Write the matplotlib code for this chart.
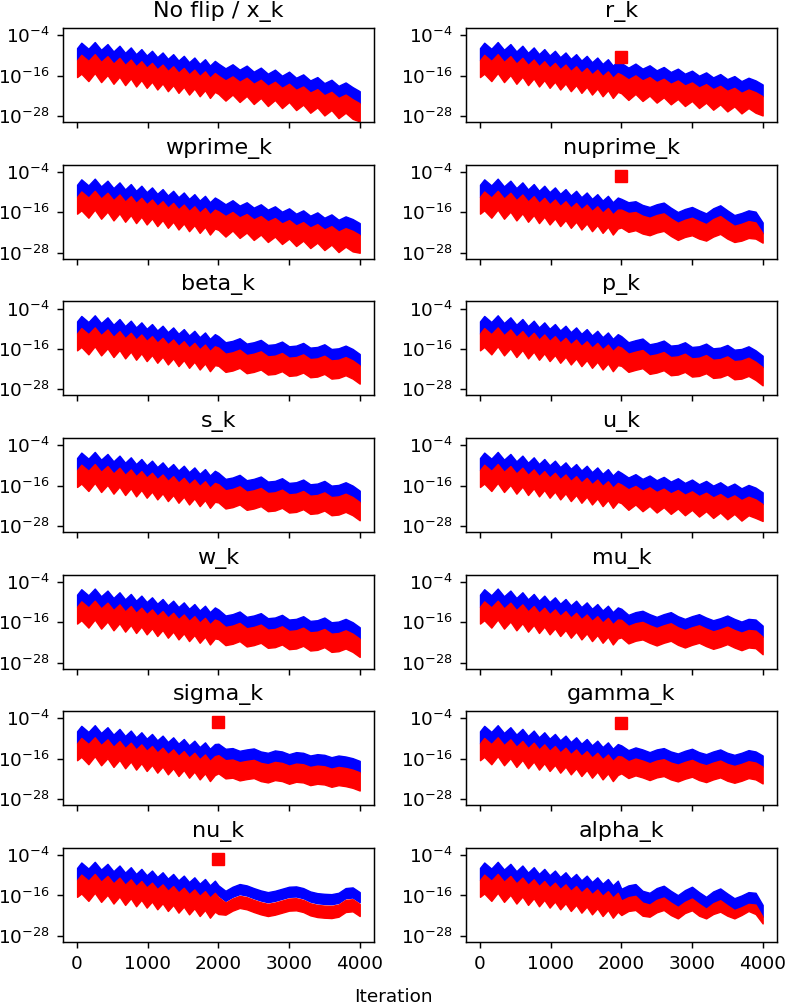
import numpy as np
import matplotlib
matplotlib.use("Agg")
import matplotlib.pyplot as plt
from matplotlib.ticker import NullLocator

TITLES = ["No flip / x_k", "r_k", "wprime_k", "nuprime_k", "beta_k", "p_k",
          "s_k", "u_k", "w_k", "mu_k", "sigma_k", "gamma_k", "nu_k", "alpha_k"]

# log10 of the error envelopes; iterations 0-1950 are the same in every panel
ITER_1ST = [0, 60, 160, 250, 340, 430, 515, 600, 680, 760, 835, 910, 985, 1060,
            1135, 1210, 1285, 1360, 1435, 1510, 1585, 1660, 1735, 1810, 1880, 1950]
BLUE_TOP_1ST = [-7.8, -6.2, -8.0, -6.0, -8.3, -6.6, -8.8, -7.1, -9.2, -7.6, -9.6, -8.1, -10.0,
                -8.6, -10.5, -9.1, -11.0, -9.6, -11.5, -10.1, -12.0, -10.6, -12.5, -11.1, -13.0, -11.6]
RED_TOP_1ST = [-11.4, -9.8, -11.6, -9.6, -11.9, -10.2, -12.4, -10.7, -12.8, -11.2, -13.2, -11.7, -13.6,
               -12.2, -14.1, -12.7, -14.6, -13.2, -15.1, -13.7, -15.6, -14.2, -16.1, -14.7, -16.6, -15.2]
RED_BOT_1ST = [-16.4, -15.4, -17.6, -15.2, -17.9, -15.8, -18.4, -16.3, -18.8, -16.8, -19.2, -17.3, -19.6,
               -17.8, -20.1, -18.3, -20.6, -18.8, -21.1, -19.3, -21.6, -19.8, -22.1, -20.3, -22.6, -20.8]

ITER_2ND = [2000, 2100, 2200, 2300, 2400, 2500, 2600, 2700, 2800, 2900, 3000,
            3100, 3200, 3300, 3400, 3500, 3600, 3700, 3800, 3900, 4000]

BLUE_TOP_2ND = [
    [-12.4, -13.8, -12.6, -14.2, -13.0, -14.8, -13.6, -15.4, -14.2, -16.0, -14.8, -16.6, -15.6, -17.4, -16.4, -18.2, -17.2, -19.0, -18.0, -19.4, -20.6],  # x_k
    [-12.2, -13.6, -12.4, -13.9, -12.9, -14.4, -13.4, -14.9, -13.9, -15.4, -14.5, -16.0, -15.0, -16.5, -15.5, -17.0, -16.1, -17.6, -16.6, -17.4, -18.6],  # r_k
    [-12.2, -13.6, -12.4, -14.0, -13.0, -14.6, -13.6, -15.2, -14.2, -15.8, -14.8, -16.4, -15.4, -17.0, -16.0, -17.6, -16.6, -18.2, -17.2, -18.0, -19.2],  # wprime_k
    [-12.0, -13.0, -12.7, -13.8, -14.4, -13.6, -13.1, -14.6, -15.9, -15.0, -14.4, -15.4, -16.3, -14.8, -13.9, -15.4, -16.8, -16.2, -15.4, -15.8, -19.0],  # nuprime_k
    [-12.2, -14.0, -13.6, -12.8, -14.4, -14.0, -13.3, -14.8, -14.6, -13.8, -15.2, -15.0, -14.2, -15.6, -15.4, -14.6, -16.0, -15.8, -15.0, -16.0, -17.5],  # beta_k
    [-12.2, -14.0, -13.4, -12.9, -14.6, -14.2, -13.5, -15.0, -14.8, -14.0, -15.4, -15.2, -14.4, -15.8, -15.6, -14.8, -16.2, -16.0, -15.2, -16.4, -18.0],  # p_k
    [-12.2, -14.0, -13.6, -12.8, -14.4, -14.0, -13.3, -14.8, -14.6, -13.8, -15.2, -15.0, -14.2, -15.6, -15.4, -14.6, -16.0, -15.8, -15.0, -16.0, -17.5],  # s_k
    [-12.2, -13.6, -12.6, -14.0, -13.0, -14.4, -13.4, -14.8, -13.8, -15.2, -14.2, -15.6, -14.6, -16.0, -15.0, -16.4, -15.4, -16.8, -15.8, -16.6, -18.0],  # u_k
    [-12.2, -14.0, -13.6, -12.8, -14.4, -14.0, -13.3, -14.8, -14.6, -13.8, -15.2, -15.0, -14.2, -15.6, -15.4, -14.6, -16.0, -15.8, -15.0, -16.0, -17.5],  # w_k
    [-12.0, -13.8, -13.0, -12.6, -13.6, -14.4, -13.6, -13.0, -14.2, -15.0, -14.2, -13.6, -14.6, -15.4, -14.8, -14.0, -15.0, -15.8, -15.0, -15.2, -17.0],  # mu_k
    [-11.5, -13.0, -12.8, -13.6, -13.2, -12.9, -13.8, -14.2, -13.5, -13.8, -14.6, -14.0, -14.2, -15.0, -14.6, -14.8, -15.5, -15.0, -15.3, -15.8, -16.6],  # sigma_k
    [-12.0, -13.4, -12.6, -13.2, -14.0, -13.2, -12.8, -13.8, -14.4, -13.6, -13.0, -14.0, -14.6, -13.8, -13.2, -14.2, -14.8, -14.2, -13.4, -13.8, -15.0],  # gamma_k
    [-13.0, -14.6, -13.4, -12.6, -13.0, -13.8, -14.5, -15.0, -14.6, -14.0, -13.4, -13.3, -13.8, -14.8, -15.3, -15.5, -15.6, -15.2, -13.8, -13.6, -15.0],  # nu_k
    [-14.0, -13.0, -12.6, -14.6, -15.2, -13.8, -13.1, -14.6, -15.9, -14.4, -13.4, -15.0, -16.4, -14.8, -13.9, -15.4, -16.8, -16.0, -15.0, -15.2, -18.8],  # alpha_k
]
RED_TOP_2ND = [
    [-16.0, -17.4, -16.2, -17.8, -16.6, -18.4, -17.2, -19.0, -17.8, -19.6, -18.4, -20.2, -19.2, -21.0, -20.0, -21.8, -20.8, -22.6, -21.6, -23.0, -24.2],
    [-15.7, -17.1, -15.9, -17.4, -16.4, -17.9, -16.9, -18.4, -17.4, -18.9, -18.0, -19.5, -18.5, -20.0, -19.0, -20.5, -19.6, -21.1, -20.1, -20.9, -22.1],
    [-15.7, -17.1, -15.9, -17.5, -16.5, -18.1, -17.1, -18.7, -17.7, -19.3, -18.3, -19.9, -18.9, -20.5, -19.5, -21.1, -20.1, -21.7, -20.7, -21.5, -22.7],
    [-15.2, -16.2, -15.9, -17.0, -17.6, -16.8, -16.3, -17.8, -19.1, -18.2, -17.6, -18.6, -19.5, -18.0, -17.1, -18.6, -20.0, -19.4, -18.6, -19.0, -22.2],
    [-15.6, -17.4, -17.0, -16.2, -17.8, -17.4, -16.7, -18.2, -18.0, -17.2, -18.6, -18.4, -17.6, -19.0, -18.8, -18.0, -19.4, -19.2, -18.4, -19.4, -20.9],
    [-15.6, -17.4, -16.8, -16.3, -18.0, -17.6, -16.9, -18.4, -18.2, -17.4, -18.8, -18.6, -17.8, -19.2, -19.0, -18.2, -19.6, -19.4, -18.6, -19.8, -21.4],
    [-15.6, -17.4, -17.0, -16.2, -17.8, -17.4, -16.7, -18.2, -18.0, -17.2, -18.6, -18.4, -17.6, -19.0, -18.8, -18.0, -19.4, -19.2, -18.4, -19.4, -20.9],
    [-15.7, -17.1, -16.1, -17.5, -16.5, -17.9, -16.9, -18.3, -17.3, -18.7, -17.7, -19.1, -18.1, -19.5, -18.5, -19.9, -18.9, -20.3, -19.3, -20.1, -21.5],
    [-15.6, -17.4, -17.0, -16.2, -17.8, -17.4, -16.7, -18.2, -18.0, -17.2, -18.6, -18.4, -17.6, -19.0, -18.8, -18.0, -19.4, -19.2, -18.4, -19.4, -20.9],
    [-15.3, -17.1, -16.3, -15.9, -16.9, -17.7, -16.9, -16.3, -17.5, -18.3, -17.5, -16.9, -17.9, -18.7, -18.1, -17.3, -18.3, -19.1, -18.3, -18.5, -20.3],
    [-14.9, -16.4, -16.2, -17.0, -16.6, -16.3, -17.2, -17.6, -16.9, -17.2, -18.0, -17.4, -17.6, -18.4, -18.0, -18.2, -18.9, -18.4, -18.7, -19.2, -20.0],
    [-15.3, -16.7, -15.9, -16.5, -17.3, -16.5, -16.1, -17.1, -17.7, -16.9, -16.3, -17.3, -17.9, -17.1, -16.5, -17.5, -18.1, -17.5, -16.7, -17.1, -18.3],
    [-16.5, -18.1, -16.9, -16.1, -16.5, -17.3, -18.0, -18.5, -18.1, -17.5, -16.9, -16.8, -17.3, -18.3, -18.8, -19.0, -19.1, -18.7, -17.3, -17.1, -18.5],
    [-17.5, -16.5, -16.1, -18.1, -18.7, -17.3, -16.6, -18.1, -19.4, -17.9, -16.9, -18.5, -19.9, -18.3, -17.4, -18.9, -20.3, -19.5, -18.5, -18.7, -22.3],
]
RED_BOT_2ND = [
    [-21.4, -23.4, -21.6, -23.8, -22.0, -24.4, -22.6, -25.0, -23.2, -25.6, -23.8, -26.2, -24.6, -27.0, -25.4, -27.8, -26.2, -28.6, -27.0, -28.8, -29.6],
    [-21.2, -23.2, -21.4, -23.5, -21.9, -24.0, -22.4, -24.5, -22.9, -25.0, -23.5, -25.6, -24.0, -26.1, -24.5, -26.6, -25.1, -27.2, -25.6, -27.0, -27.8],
    [-21.2, -23.2, -21.4, -23.6, -22.0, -24.2, -22.6, -24.8, -23.2, -25.4, -23.8, -26.0, -24.4, -26.6, -25.0, -27.2, -25.6, -27.8, -26.2, -27.6, -28.0],
    [-20.5, -21.8, -21.3, -22.3, -22.8, -22.0, -21.5, -23.0, -24.2, -23.3, -22.8, -23.8, -24.4, -23.2, -22.4, -23.8, -24.8, -24.4, -23.6, -23.8, -25.0],
    [-21.0, -22.8, -22.4, -21.6, -23.2, -22.8, -22.1, -23.6, -23.4, -22.6, -24.0, -23.8, -23.0, -24.4, -24.2, -23.4, -24.8, -24.6, -23.8, -24.8, -26.3],
    [-21.0, -22.8, -22.2, -21.7, -23.4, -23.0, -22.3, -23.8, -23.6, -22.8, -24.2, -24.0, -23.2, -24.6, -24.4, -23.6, -25.0, -24.8, -24.0, -25.2, -26.8],
    [-21.0, -22.8, -22.4, -21.6, -23.2, -22.8, -22.1, -23.6, -23.4, -22.6, -24.0, -23.8, -23.0, -24.4, -24.2, -23.4, -24.8, -24.6, -23.8, -24.8, -26.3],
    [-21.2, -23.2, -21.6, -23.6, -22.0, -24.0, -22.4, -24.4, -22.8, -24.8, -23.2, -25.2, -23.6, -25.6, -24.0, -26.0, -24.4, -26.4, -24.8, -25.6, -26.5],
    [-21.0, -22.8, -22.4, -21.6, -23.2, -22.8, -22.1, -23.6, -23.4, -22.6, -24.0, -23.8, -23.0, -24.4, -24.2, -23.4, -24.8, -24.6, -23.8, -24.8, -26.3],
    [-20.5, -22.3, -21.5, -21.1, -22.1, -22.9, -22.1, -21.5, -22.7, -23.5, -22.7, -22.1, -23.1, -23.9, -23.3, -22.5, -23.5, -24.3, -23.5, -23.7, -25.5],
    [-20.3, -21.8, -21.6, -22.4, -22.0, -21.7, -22.6, -23.0, -22.3, -22.6, -23.4, -22.8, -23.0, -23.8, -23.4, -23.6, -24.3, -23.8, -24.1, -24.6, -25.4],
    [-20.3, -21.7, -20.9, -21.5, -22.3, -21.5, -21.1, -22.1, -22.7, -21.9, -21.3, -22.3, -22.9, -22.1, -21.5, -22.5, -23.1, -22.5, -21.7, -22.1, -23.3],
    [-21.5, -21.7, -20.5, -19.7, -20.1, -20.9, -21.6, -22.1, -21.7, -21.1, -20.5, -20.4, -20.9, -21.9, -22.4, -22.6, -22.7, -22.3, -20.9, -20.7, -22.1],
    [-21.8, -20.6, -20.3, -22.0, -22.3, -21.0, -20.3, -21.8, -22.8, -21.2, -20.4, -22.0, -22.8, -21.5, -20.8, -22.0, -22.8, -21.8, -20.6, -21.5, -24.3],
]
# nu_k: the blue band separates from the red one after the flip
BLUE_BOT_NU_K = [-16.0, -17.6, -16.4, -15.6, -16.0, -16.8, -17.5, -18.0, -17.6, -17.0, -16.4,
                 -16.3, -16.8, -17.8, -18.3, -18.5, -18.6, -18.2, -16.8, -16.6, -18.0]

# red square: iteration and log10 value of the flip
FLIP_ITER = 2000
FLIP_LOG = [None, -10.4, None, -5.3, None, None, None, None, None, None, -5.2, -5.3, -5.3, None]

plt.rcParams.update({
    "axes.linewidth": 1.06,
    "xtick.major.size": 4.65, "ytick.major.size": 4.65,
    "xtick.major.width": 1.06, "ytick.major.width": 1.06,
    "xtick.major.pad": 4.65, "ytick.major.pad": 4.65,
})

fig, axes = plt.subplots(7, 2, figsize=(7.87, 10.08), dpi=100, sharex=True)
fig.subplots_adjust(left=0.080, right=0.987, top=0.972, bottom=0.0655,
                    wspace=0.296, hspace=0.454)

x = np.array(ITER_1ST + ITER_2ND, dtype=float)
for i, ax in enumerate(axes.flat):
    bt = np.array(BLUE_TOP_1ST + BLUE_TOP_2ND[i])
    rt = np.array(RED_TOP_1ST + RED_TOP_2ND[i])
    rb = np.array(RED_BOT_1ST + RED_BOT_2ND[i])
    if TITLES[i] == "nu_k":
        bb = np.array(RED_TOP_1ST + BLUE_BOT_NU_K)
    else:
        bb = rt
    ax.fill_between(x, 10.0 ** bb, 10.0 ** bt, color="blue", lw=1.0)
    ax.fill_between(x, 10.0 ** rb, 10.0 ** rt, color="red", lw=1.0)
    if FLIP_LOG[i] is not None:
        ax.plot([FLIP_ITER], [10.0 ** FLIP_LOG[i]], "s", color="red", ms=9)
    ax.set_yscale("log")
    ax.set_ylim(10.0 ** -29.8, 10.0 ** -1.9)
    ax.set_yticks([1e-28, 1e-16, 1e-4])
    ax.yaxis.set_minor_locator(NullLocator())
    ax.set_xlim(-200, 4200)
    ax.set_xticks([0, 1000, 2000, 3000, 4000])
    ax.tick_params(labelsize=13.3)
    ax.set_title(TITLES[i], fontsize=16, pad=8)

fig.text(0.5, 0.011, "Iteration", ha="center", va="center", fontsize=13.3)
fig.savefig("out.png", dpi=100)
